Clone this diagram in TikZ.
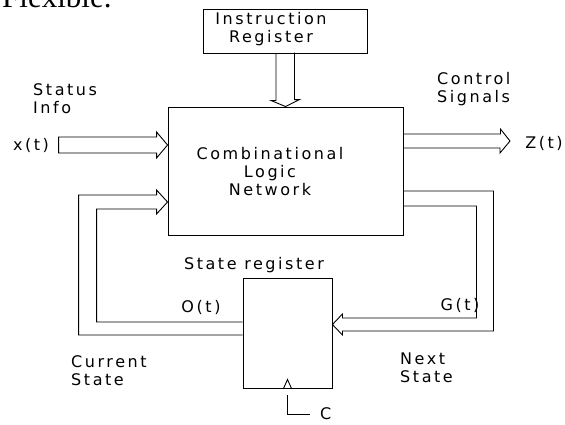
\documentclass[tikz,border=0pt]{standalone}
\usepackage{fontspec}
\usepackage{tikz}
\usetikzlibrary{calc}
\newfontfamily\plotfont[LetterSpace=16]{DejaVu Sans}
\newfontfamily\flexfont{Liberation Serif}

\tikzset{
  box/.style={draw, line width=0.9pt, inner sep=0pt},
  lbl/.style={font=\plotfont\fontsize{16}{18}\selectfont, inner sep=0pt},
  bus/.style={line width=0.9pt, line join=miter}
}

\begin{document}
\begin{tikzpicture}[x=1pt, y=-1pt]
        \clip (0,0) rectangle (565,424);
        \node[anchor=base west, inner sep=0pt, font=\flexfont\fontsize{31}{31}\selectfont] (flex) at (2,7) {Flexible.};
        % the three boxes
        \node[box, minimum width=164pt, minimum height=44pt] (ir) at (285,31) {};
        \node[box, minimum width=235pt, minimum height=128pt] (cln) at (285.5,171) {};
        \node[box, minimum width=89pt, minimum height=110pt] (sr) at (287.5,333) {};
        \node[lbl, align=center] (irtext) at (271,29) {Instruction\\Register};
        \node[lbl, align=center] (clntext) at (270,172) {Combinational\\Logic\\Network};
        \node[lbl] (srtext) at (254,265) {State register};
        % labels
        \node[lbl, align=left, anchor=west] (status) at (33,99) {Status\\Info};
        \node[lbl] (xin) at (31,145) {x(t)};
        \node[lbl, align=left, anchor=west] (ctrl) at (437,89.5) {Control\\Signals};
        \node[lbl] (zout) at (544,143) {Z(t)};
        \node[lbl] (qt) at (201,307) {O(t)};
        \node[lbl] (gt) at (460,305) {G(t)};
        \node[lbl, align=left, anchor=west] (cur) at (71,370.5) {Current\\State};
        \node[lbl, align=left, anchor=west] (nxt) at (400,367.5) {Next\\State};
        \node[lbl, anchor=west] (clk) at (320,414) {C};
        % buses
        \coordinate (xtip) at (cln.west |- 0,145);
        \coordinate (qtip) at (cln.west |- 0,202);
        \coordinate (ztip) at (510,141);
        \coordinate (gtip) at (sr.east |- 0,324.5);
        \draw[bus] ($(ir.south)+(-9,0)$) -- ++(0,47) -- ++(-5,0) -- (cln.north) -- ++(14,-7) -- ++(-5,0) -- ++(0,-47);
        \draw[bus] (xtip) -- ++(-11,-13) -- ++(0,5) -- ++(-98,0) -- ++(0,16) -- ++(98,0) -- ++(0,5) -- cycle;
        \draw[bus] (cln.east |- 0,134) -- ++(97,0) -- ++(0,-5) -- (ztip) -- ++(-10,12) -- ++(0,-5) -- (cln.east |- 0,148);
        \draw[bus] (cln.east |- 0,191) -- ++(90,0) -- ++(0,140) -- ++(-151,0) -- ++(0,4) -- (gtip) -- ++(10,-10.5) -- ++(0,4) -- ++(134,0) -- ++(0,-112) -- (cln.east |- 0,206);
        \draw[bus] (qtip) -- ++(-11,-12) -- ++(0,5) -- ++(-78,0) -- ++(0,140) -- (sr.west |- 0,335);
        \draw[bus] (sr.west |- 0,322) -- ++(-146,0) -- ++(0,-113) -- ++(60,0) -- ++(0,5) -- (qtip);
        % clock
        \draw[bus] ($(sr.south)+(-4,0)$) -- ++(4,-9) -- ++(4,9);
        \draw[bus] ($(sr.south)+(0,7)$) |- ($(clk.west)+(-10,0)$);
\end{tikzpicture}
\end{document}
